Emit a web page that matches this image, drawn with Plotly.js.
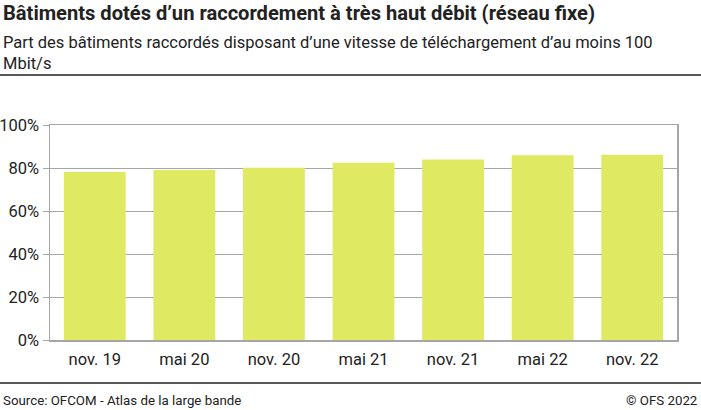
<!DOCTYPE html>
<html lang="fr">

<head>
    <meta charset="utf-8">
    <title>Bâtiments dotés d'un raccordement à très haut débit</title>
    <script src="https://cdn.plot.ly/plotly-3.0.1.min.js"></script>
    <style>
        body,
        html {
            margin: 0;
            padding: 0;
            background: #fff;
        }

        #plot {
            width: 701px;
            height: 410px;
        }

        #plot text {
            font-variant-ligatures: none;
        }
    </style>
</head>

<body>
    <div id="plot"></div>

    <script>
        // Données
        const periods = ["nov. 19", "mai 20", "nov. 20", "mai 21", "nov. 21", "mai 22", "nov. 22"];
        const shares = [0.781, 0.791, 0.801, 0.825, 0.840, 0.859, 0.862];
        const yTicks = [0, 0.2, 0.4, 0.6, 0.8, 1.0];
        const yTickLabels = ["0%", "20%", "40%", "60%", "80%", "100%"];

        const W = 701, H = 410;
        const margin = { l: 50, r: 24, t: 125, b: 70 };
        const plotW = W - margin.l - margin.r;
        const plotH = H - margin.t - margin.b;

        // pixel -> paper coordinates
        function px(x) { return (x - margin.l) / plotW; }
        function py(y) { return (H - margin.b - y) / plotH; }

        const font = "Roboto, 'Liberation Sans', sans-serif";

        const bars = {
            type: "bar",
            x: periods,
            y: shares,
            marker: { color: "#e0e962" },
            hoverinfo: "x+y"
        };

        const layout = {
            width: W,
            height: H,
            margin: margin,
            showlegend: false,
            paper_bgcolor: "#fff",
            plot_bgcolor: "#fff",
            bargap: 0.31,
            font: { family: font, size: 14, color: "#222" },
            xaxis: {
                type: "category",
                showgrid: false,
                ticks: "",
                ticklabelstandoff: 4,
                tickfont: { size: 16.5, color: "#222" },
                showline: true,
                linecolor: "#a6a6a6",
                linewidth: 1.5,
                mirror: true,
                fixedrange: true
            },
            yaxis: {
                range: [0, 1],
                tickvals: yTicks,
                ticktext: yTickLabels,
                ticks: "outside",
                ticklen: 6,
                tickcolor: "#a6a6a6",
                tickfont: { size: 16.5, color: "#222" },
                showgrid: true,
                gridcolor: "#a6a6a6",
                gridwidth: 1,
                zeroline: false,
                showline: true,
                linecolor: "#a6a6a6",
                linewidth: 1.5,
                mirror: true,
                fixedrange: true
            },
            shapes: [
                {
                    type: "line", xref: "paper", yref: "paper",
                    x0: px(0), x1: px(W), y0: py(75), y1: py(75),
                    line: { color: "#222", width: 1.5 }
                },
                {
                    type: "line", xref: "paper", yref: "paper",
                    x0: px(0), x1: px(W), y0: py(383), y1: py(383),
                    line: { color: "#222", width: 1.5 }
                }
            ],
            annotations: [
                {
                    text: "<b>Bâtiments dotés d’un raccordement à très haut débit (réseau fixe)</b>",
                    xref: "paper", yref: "paper", x: px(1), y: py(13),
                    xanchor: "left", yanchor: "middle", showarrow: false,
                    font: { size: 20.1, color: "#222" }
                },
                {
                    text: "Part des bâtiments raccordés disposant d’une vitesse de téléchargement d’au moins 100<br>Mbit/s",
                    xref: "paper", yref: "paper", x: px(1), y: py(53),
                    xanchor: "left", yanchor: "middle", align: "left", showarrow: false,
                    font: { size: 16.5, color: "#222" }
                },
                {
                    text: "Source: OFCOM - Atlas de la large bande",
                    xref: "paper", yref: "paper", x: px(1), y: py(400),
                    xanchor: "left", yanchor: "middle", showarrow: false,
                    font: { size: 13.3, color: "#222" }
                },
                {
                    text: "© OFS 2022",
                    xref: "paper", yref: "paper", x: px(699), y: py(400),
                    xanchor: "right", yanchor: "middle", showarrow: false,
                    font: { size: 13.3, color: "#222" }
                }
            ]
        };

        Plotly.newPlot("plot", [bars], layout, { displayModeBar: false, staticPlot: true });
    </script>
</body>

</html>
